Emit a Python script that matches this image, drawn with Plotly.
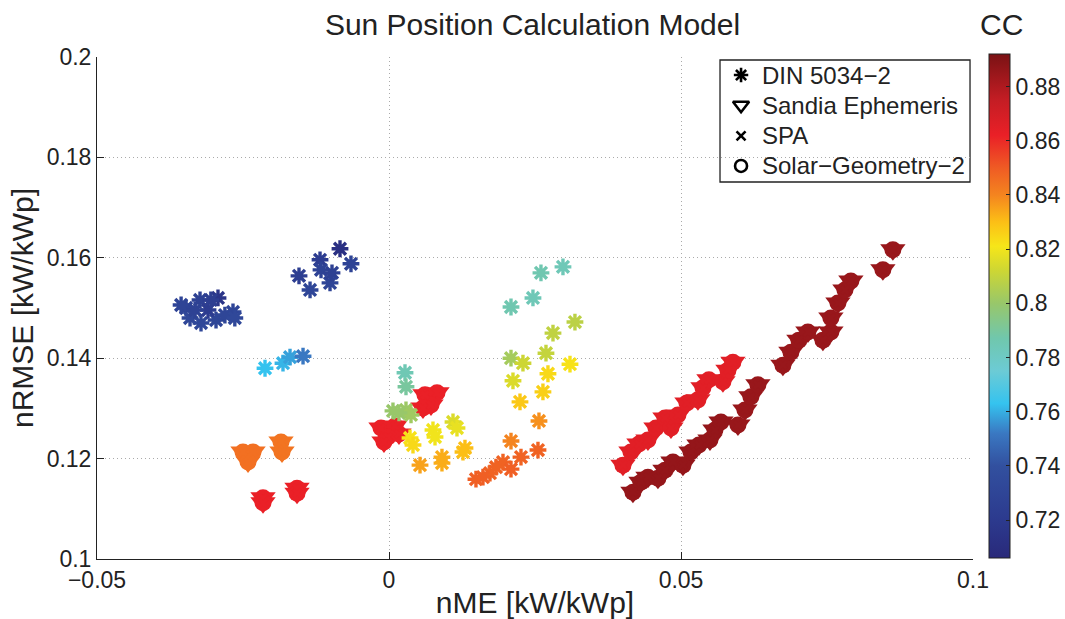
import plotly.graph_objects as go

# ---------------- data ----------------
# DIN 5034-2 (asterisks)
din_x = [-0.03475, -0.03236, -0.02928, -0.02671, -0.03407, -0.03219, -0.02962, -0.03099,
         -0.0356, -0.0281, -0.0332, -0.0305, -0.0264,
         -0.01541, -0.01352, -0.01181, -0.01164, -0.0101, -0.00976, -0.00839, -0.00651,
         -0.02123, -0.01815, -0.01695, -0.01472,
         0.02979, 0.02602, 0.02465, 0.02089,
         0.03184, 0.02808, 0.02688, 0.02089, 0.02294, 0.03099, 0.02722, 0.02123, 0.02636, 0.02243,
         0.02568, 0.02089, 0.02551, 0.0226, 0.01952, 0.02089, 0.01729, 0.01489, 0.01832, 0.01609,
         0.00274, 0.00291,
         0.00068, 0.00291, 0.00377, 0.00171,
         0.01096, 0.01164, 0.00753, 0.0036, 0.00411, 0.00788, 0.01301, 0.00907, 0.00907, 0.00531, 0.01267]
din_y = [0.1500, 0.1516, 0.1520, 0.1492, 0.1480, 0.1470, 0.1476, 0.1496,
         0.1506, 0.1486, 0.1496, 0.1516, 0.1480,
         0.1564, 0.1536, 0.1596, 0.1576, 0.1550, 0.1570, 0.1618, 0.1588,
         0.1380, 0.1390, 0.1402, 0.1404,
         0.1582, 0.1570, 0.1520, 0.1502,
         0.1472, 0.1450, 0.1410, 0.1400, 0.1390, 0.1388, 0.1369, 0.1355, 0.1333, 0.1313,
         0.1275, 0.1235, 0.1217, 0.1203, 0.1193, 0.1179, 0.1171, 0.1159, 0.1183, 0.1163,
         0.1371, 0.1343,
         0.1295, 0.1297, 0.1287, 0.1291,
         0.1273, 0.1261, 0.1257, 0.1241, 0.1227, 0.1243, 0.1221, 0.1203, 0.1191, 0.1187, 0.1213]
din_cc = [0.728, 0.726, 0.716, 0.730, 0.732, 0.733, 0.731, 0.722,
          0.729, 0.731, 0.727, 0.724, 0.733,
          0.724, 0.731, 0.722, 0.728, 0.730, 0.726, 0.712, 0.728,
          0.763, 0.761, 0.758, 0.752,
          0.784, 0.786, 0.784, 0.786,
          0.808, 0.809, 0.810, 0.803, 0.812, 0.822, 0.824, 0.815, 0.826, 0.828,
          0.838, 0.840, 0.848, 0.848, 0.848, 0.849, 0.848, 0.849, 0.848, 0.849,
          0.785, 0.790,
          0.800, 0.801, 0.802, 0.800,
          0.815, 0.818, 0.820, 0.822, 0.824, 0.820, 0.830, 0.833, 0.833, 0.835, 0.830]

# Sandia Ephemeris, SPA and Solar-Geometry-2 give practically identical results,
# so their markers overlap (one value set shared by the three models)
blob_x = [-0.0250, -0.02328, -0.02414, -0.01849, -0.01832,
          -0.02157, -0.02157, -0.01575, -0.01575,
          -0.00137, 0.00103, -0.00017, 0.00171, -0.00086,
          0.00616, 0.00822, 0.00719, 0.00582,
          0.04006, 0.04143, 0.0428, 0.04434, 0.04571, 0.04725, 0.04828, 0.04948, 0.05102,
          0.0529, 0.05376, 0.05478, 0.05718, 0.05804, 0.05889,
          0.04177, 0.04314, 0.04434, 0.04605, 0.04725, 0.04862, 0.05033, 0.0517, 0.05307,
          0.05496, 0.05581, 0.05684, 0.05975, 0.06095, 0.06197, 0.06317,
          0.06745, 0.06882, 0.07019, 0.07173, 0.0743, 0.07567,
          0.07567, 0.07687, 0.07807, 0.07909, 0.08457, 0.08628]
blob_y = [0.1213, 0.1213, 0.1193, 0.1233, 0.1213,
          0.1122, 0.1112, 0.1141, 0.1131,
          0.1261, 0.1265, 0.1243, 0.1249, 0.1233,
          0.1327, 0.1331, 0.1307, 0.1301,
          0.1187, 0.1213, 0.1229, 0.1237, 0.1261, 0.1281, 0.1261, 0.1287, 0.1311,
          0.1317, 0.1341, 0.1357, 0.1353, 0.1376, 0.1392,
          0.1133, 0.1153, 0.1163, 0.1161, 0.1177, 0.1193, 0.1187, 0.1213, 0.1227,
          0.1237, 0.1257, 0.1273, 0.1267, 0.1297, 0.1323, 0.1347,
          0.1386, 0.1412, 0.1436, 0.1452, 0.1436, 0.1452,
          0.1480, 0.1510, 0.1536, 0.1554, 0.1576, 0.1616]
blob_cc = [0.845, 0.845, 0.845, 0.844, 0.844,
           0.862, 0.862, 0.862, 0.862,
           0.862, 0.862, 0.862, 0.862, 0.862,
           0.862, 0.862, 0.862, 0.862,
           0.865, 0.865, 0.865, 0.865, 0.865, 0.865, 0.865, 0.865, 0.865,
           0.865, 0.865, 0.865, 0.865, 0.865, 0.865,
           0.886, 0.886, 0.886, 0.886, 0.886, 0.886, 0.886, 0.886, 0.886,
           0.886, 0.886, 0.886, 0.885, 0.885, 0.885, 0.885,
           0.885, 0.885, 0.885, 0.885, 0.885, 0.885,
           0.885, 0.885, 0.885, 0.885, 0.885, 0.885]

legend_names = ["DIN 5034\u22122", "Sandia Ephemeris", "SPA", "Solar\u2212Geometry\u22122"]
x_ticks = [-0.05, 0, 0.05, 0.1]
x_tick_text = ["\u22120.05", "0", "0.05", "0.1"]
y_ticks = [0.1, 0.12, 0.14, 0.16, 0.18, 0.2]
y_tick_text = ["0.1", "0.12", "0.14", "0.16", "0.18", "0.2"]
cc_ticks = [0.72, 0.74, 0.76, 0.78, 0.8, 0.82, 0.84, 0.86, 0.88]
cc_tick_text = ["0.72", "0.74", "0.76", "0.78", "0.8", "0.82", "0.84", "0.86", "0.88"]

# ---------------- style ----------------
CMIN, CMAX = 0.706, 0.892
stops = [(0.706, "#29297a"), (0.72, "#2c3a8e"), (0.74, "#32509f"), (0.752, "#3a78c2"),
         (0.763, "#35c3ef"), (0.775, "#6ccbd5"), (0.787, "#70c7ad"), (0.80, "#98c76a"),
         (0.812, "#cdd634"), (0.821, "#f6e619"), (0.83, "#fcbf16"), (0.84, "#f4841f"),
         (0.85, "#ef5b24"), (0.862, "#ea2027"), (0.875, "#c41d24"), (0.892, "#7a1214")]
cscale = [[(v - CMIN) / (CMAX - CMIN), c] for v, c in stops]
FONT = "Liberation Sans, Arial, Helvetica, sans-serif"
TXT = "#222"

fig = go.Figure()

# Sandia Ephemeris (filled triangles, carry the colour bar)
fig.add_trace(go.Scatter(
    x=blob_x, y=blob_y, mode="markers", showlegend=False,
    marker=dict(symbol="triangle-down", size=22, color=blob_cc, colorscale=cscale,
                cmin=CMIN, cmax=CMAX, line=dict(width=0),
                colorbar=dict(x=1.0183, xanchor="left", xpad=0, y=0.504, yanchor="middle",
                              ypad=0, len=504, lenmode="pixels", thickness=21,
                              outlinewidth=1, outlinecolor=TXT,
                              tickvals=cc_ticks, ticktext=cc_tick_text,
                              ticks="inside", ticklen=4, tickcolor=TXT,
                              tickfont=dict(family=FONT, size=23, color=TXT)))))
# Solar-Geometry-2 (filled circles)
fig.add_trace(go.Scatter(
    x=blob_x, y=blob_y, mode="markers", showlegend=False,
    marker=dict(symbol="circle", size=17, color=blob_cc, colorscale=cscale,
                cmin=CMIN, cmax=CMAX, line=dict(width=0))))
# SPA (x)
fig.add_trace(go.Scatter(
    x=blob_x, y=blob_y, mode="markers", showlegend=False,
    marker=dict(symbol="x", size=9, color=blob_cc, colorscale=cscale,
                cmin=CMIN, cmax=CMAX, line=dict(width=0))))
# DIN 5034-2 (asterisks; open symbols take their stroke colour from marker.color)
fig.add_trace(go.Scatter(
    x=din_x, y=din_y, mode="markers", showlegend=False,
    marker=dict(symbol="asterisk-open", size=14, color=din_cc, colorscale=cscale,
                cmin=CMIN, cmax=CMAX, line=dict(width=3.4))))

# ---- hand-built legend (box + symbols on an overlay axis + text annotations) ----
LEG_X0, LEG_X1, LEG_Y0, LEG_Y1 = 0.7112, 0.9966, 0.751, 0.994
row_y = [0.964, 0.904, 0.843, 0.783]
sym_x, txt_x = 0.7352, 0.7568
leg_sym = ["asterisk-open", "triangle-down-open", "x-thin-open", "circle-open"]
leg_size = [12, 14, 9, 12]
for yy, sym, sz in zip(row_y, leg_sym, leg_size):
    fig.add_trace(go.Scatter(x=[sym_x], y=[yy], xaxis="x2", yaxis="y2", mode="markers",
                             showlegend=False, hoverinfo="skip",
                             marker=dict(symbol=sym, size=sz, color="black",
                                         line=dict(width=2.6, color="black"))))

annotations = [dict(text=name, xref="paper", yref="paper", x=txt_x, y=yy,
                    xanchor="left", yanchor="middle", showarrow=False,
                    font=dict(family=FONT, size=24, color=TXT))
               for name, yy in zip(legend_names, row_y)]
annotations.append(dict(text="CC", xref="paper", yref="paper", x=1.0183 + 12 / 876, y=1.0,
                        xanchor="center", yanchor="bottom", yshift=14, showarrow=False,
                        font=dict(family=FONT, size=30, color=TXT)))

grid = dict(showgrid=True, gridcolor="#aaaaaa", griddash="1px,3px", gridwidth=1, zeroline=False,
            showline=True, linecolor=TXT, linewidth=1, ticks="inside", ticklen=7,
            tickcolor=TXT, tickfont=dict(family=FONT, size=23, color=TXT), automargin=False)

fig.update_layout(
    width=1065, height=619, plot_bgcolor="white", paper_bgcolor="white",
    margin=dict(l=97, r=92, t=57, b=60, autoexpand=False),
    showlegend=False,
    title=dict(text="Sun Position Calculation Model", x=0.5, xanchor="center", y=0.96,
               yanchor="middle", font=dict(family=FONT, size=30, color=TXT)),
    xaxis=dict(range=[-0.05, 0.1], tickvals=x_ticks, ticktext=x_tick_text,
               title=dict(text="nME [kW/kWp]", standoff=0, font=dict(family=FONT, size=30, color=TXT)),
               **grid),
    yaxis=dict(range=[0.1, 0.2], tickvals=y_ticks, ticktext=y_tick_text,
               title=dict(text="nRMSE [kW/kWp]", standoff=4, font=dict(family=FONT, size=30, color=TXT)),
               **grid),
    xaxis2=dict(range=[0, 1], overlaying="x", visible=False, fixedrange=True),
    yaxis2=dict(range=[0, 1], overlaying="y", visible=False, fixedrange=True),
    shapes=[dict(type="rect", xref="paper", yref="paper", x0=LEG_X0, x1=LEG_X1,
                 y0=LEG_Y0, y1=LEG_Y1, line=dict(color=TXT, width=1.3),
                 fillcolor="white", layer="below")],
    annotations=annotations,
)

fig.write_html("out.html")
